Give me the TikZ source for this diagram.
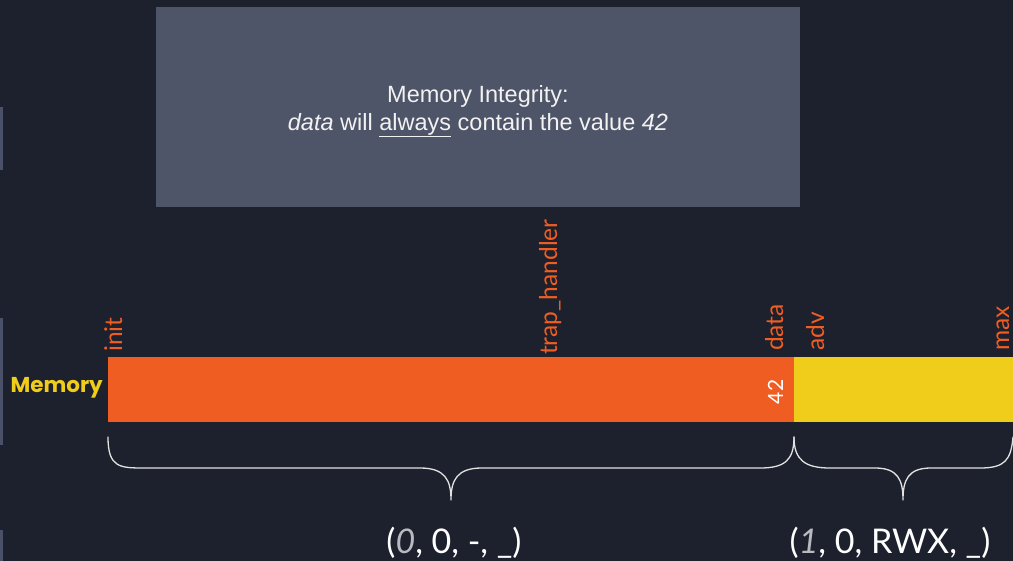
\documentclass[tikz,border=0pt]{standalone}
\usepackage{fontspec}
\setmainfont{Liberation Sans}
\newfontfamily\latofont{Lato}
\newfontfamily\popfont{Poppins}
\definecolor{bgc}{HTML}{1C212D}
\definecolor{panel}{HTML}{4F5568}
\definecolor{sidebar}{HTML}{4A5068}
\definecolor{orng}{HTML}{F05D23}
\definecolor{yel}{HTML}{F0CD1B}
\definecolor{brc}{HTML}{E2E2E2}
\definecolor{dimtxt}{HTML}{B8BAC0}
\tikzset{
  addr/.style={rotate=90, anchor=base west, text=orng, inner sep=0pt,
    font=\latofont\fontsize{24.5}{27}\selectfont},
  tuple/.style={text=white, inner sep=0pt, font=\latofont\fontsize{34}{38}\selectfont},
  bracepath/.style={draw=brc, line width=1.3pt, line cap=round, line join=round},
}
\begin{document}
\begin{tikzpicture}[x=1pt, y=-1pt]
\useasboundingbox (0,0) rectangle (1013,561);
\fill[bgc] (0,0) rectangle (1013,561);
% side markers
\fill[sidebar] (0,107) rectangle (3,170);
\fill[sidebar] (0,318) rectangle (3,445);
\fill[sidebar] (0,530) rectangle (3,561);
% property panel
\node[fill=panel, minimum width=644pt, minimum height=200pt, inner sep=0pt] (panel) at (478,107) {};
\node[text=white!95!black, align=center, inner sep=0pt,
  font=\fontsize{23.5}{28}\selectfont] (prop) at (478,111)
  {Memory Integrity:\\\textit{data} will \underline{always} contain the value \textit{42}};
% memory bar
\node[fill=orng, minimum width=686pt, minimum height=65pt, inner sep=0pt, anchor=north west] (low) at (108,357) {};
\node[fill=yel, minimum width=219pt, minimum height=65pt, inner sep=0pt, anchor=north west] (high) at (794,357) {};
\node[text=yel, anchor=east, inner sep=0pt, font=\popfont\bfseries\fontsize{21.5}{24}\selectfont] (memlbl) at (103,388) {Memory};
% address labels
\node[addr] (init) at (122,352) {init};
\node[addr] (trap) at (557,355) {trap\_handler};
\node[addr] (data) at (783,351) {data};
\node[addr] (adv) at (824,351) {adv};
\node[addr] (max) at (1009,351) {max};
\node[rotate=90, anchor=base, text=white, inner sep=0pt,
  font=\latofont\fontsize{21}{24}\selectfont] (val) at (783,392) {42};
% braces under the bar
\coordinate (b1l) at (108,437);
\coordinate (b1t) at (451,500);
\coordinate (b1r) at (794,437);
\coordinate (b2t) at (903,500);
\coordinate (b2r) at (1013,437);
\draw[bracepath] (b1l) .. controls (108,468) and (120,468) .. (145,468)
  -- (420,468) .. controls (445,468) and (451,480) .. (b1t)
  .. controls (451,480) and (457,468) .. (482,468)
  -- (760,468) .. controls (785,468) and (794,460) .. (b1r);
\draw[bracepath] (b1r) .. controls (794,460) and (805,468) .. (830,468)
  -- (875,468) .. controls (898,468) and (903,480) .. (b2t)
  .. controls (903,480) and (908,468) .. (931,468)
  -- (980,468) .. controls (1005,468) and (1011,460) .. (b2r);
% region permissions
\node[tuple] (perm1) at (454,543) {({\color{dimtxt}\itshape 0}, 0, -, \_)};
\node[tuple] (perm2) at (890,543) {({\color{dimtxt}\itshape 1}, 0, RWX, \_)};
\end{tikzpicture}
\end{document}
